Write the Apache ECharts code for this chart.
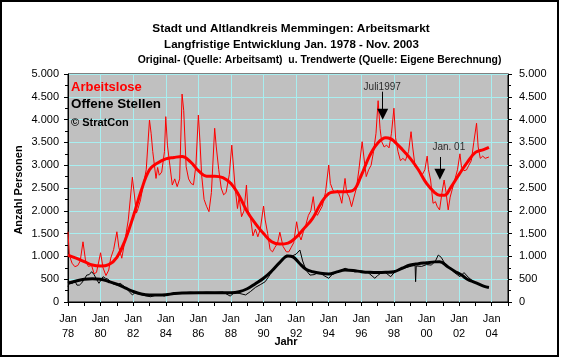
<!DOCTYPE html>
<html><head><meta charset="utf-8">
<script src="https://cdn.jsdelivr.net/npm/echarts@6/dist/echarts.min.js"></script>
<style>html,body{margin:0;padding:0;background:#fff}#c{width:561px;height:358px}</style>
</head><body><div id="c"></div>
<script>
const titleLines = [
  'Stadt und Altlandkreis Memmingen: Arbeitsmarkt',
  'Langfristige Entwicklung Jan. 1978 - Nov. 2003',
  'Original- (Quelle: Arbeitsamt)  u. Trendwerte (Quelle: Eigene Berechnung)'
];
const legendNames = ['Arbeitslose', 'Offene Stellen'];
const copyright = '\u00A9 StratCon';
const yAxisName = 'Anzahl Personen';
const xAxisName = 'Jahr';

// [decimal year, persons]
const arbeitsloseRaw = [
  [1978.00,1540],[1978.08,1030],[1978.25,850],[1978.42,775],[1978.60,800],[1978.75,900],[1978.92,1320],
  [1979.08,900],[1979.25,780],[1979.45,800],[1979.60,620],[1979.75,650],[1980.00,1080],[1980.15,750],
  [1980.33,580],[1980.50,700],[1980.62,960],[1980.80,1150],[1981.00,1540],[1981.12,1200],[1981.30,960],
  [1981.42,1000],[1981.50,1360],[1981.70,1800],[1981.95,2735],[1982.05,2700],[1982.20,1950],[1982.30,2050],
  [1982.45,2240],[1982.60,2530],[1982.80,2900],[1983.00,3990],[1983.10,3700],[1983.20,3300],[1983.40,2710],
  [1983.50,2950],[1983.60,2780],[1983.75,2850],[1983.92,3300],[1984.00,4065],[1984.10,3440],[1984.25,3000],
  [1984.40,2565],[1984.55,2700],[1984.70,2530],[1984.85,2700],[1985.00,4560],[1985.10,4200],[1985.25,2965],
  [1985.40,2700],[1985.55,2600],[1985.70,2570],[1985.85,3000],[1986.00,4100],[1986.10,3500],[1986.20,2785],
  [1986.35,2250],[1986.50,2100],[1986.65,1980],[1986.80,2400],[1987.00,3810],[1987.10,3400],[1987.25,2900],
  [1987.40,2500],[1987.55,2350],[1987.70,2400],[1987.90,2800],[1988.05,3440],[1988.15,3400],[1988.25,2530],
  [1988.40,2050],[1988.50,2300],[1988.65,1870],[1988.80,2000],[1988.95,2565],[1989.05,2000],[1989.20,1850],
  [1989.35,1450],[1989.50,1600],[1989.65,1430],[1989.80,1600],[1990.00,2105],[1990.10,1800],[1990.25,1505],
  [1990.40,1150],[1990.55,1100],[1990.70,1200],[1990.85,1280],[1991.00,1530],[1991.10,1530],[1991.20,1215],
  [1991.40,1100],[1991.55,1100],[1991.70,1200],[1991.85,1300],[1992.03,1760],[1992.15,1500],[1992.30,1360],
  [1992.45,1550],[1992.60,1700],[1992.75,1900],[1992.90,2000],[1993.05,2310],[1993.15,2000],[1993.30,1900],
  [1993.45,2000],[1993.60,2100],[1993.80,2400],[1994.00,3005],[1994.10,2600],[1994.25,2455],[1994.40,2400],
  [1994.55,2450],[1994.70,2300],[1994.80,2165],[1995.00,2710],[1995.10,2400],[1995.25,2300],[1995.40,2090],
  [1995.55,2300],[1995.70,2500],[1995.85,2900],[1996.05,3515],[1996.15,3200],[1996.30,2750],[1996.45,2900],
  [1996.60,3000],[1996.75,3300],[1996.90,3700],[1997.03,4415],[1997.15,3800],[1997.25,3515],[1997.40,3400],
  [1997.55,3440],[1997.70,3380],[1997.85,3700],[1998.00,4250],[1998.10,3600],[1998.25,3300],[1998.40,3100],
  [1998.55,3150],[1998.70,3100],[1998.90,3300],[1999.05,3735],[1999.15,3400],[1999.30,2965],[1999.45,2950],
  [1999.60,2850],[1999.75,2800],[1999.90,2900],[2000.04,3200],[2000.12,2900],[2000.25,2675],[2000.40,2165],
  [2000.55,2200],[2000.65,2100],[2000.80,2020],[2000.95,2400],[2001.08,2675],[2001.20,2400],[2001.33,2020],
  [2001.45,2300],[2001.60,2500],[2001.75,2700],[2001.90,2900],[2002.05,3250],[2002.15,2950],[2002.30,2880],
  [2002.45,2895],[2002.60,3000],[2002.75,3100],[2002.90,3500],[2003.07,3920],[2003.17,3400],[2003.30,3150],
  [2003.45,3200],[2003.60,3150],[2003.83,3180]
];
const arbeitsloseTrend = [
  [1978.0,1030],[1978.5,960],[1979.0,885],[1979.5,810],[1980.0,790],[1980.5,820],[1981.0,980],[1981.5,1350],
  [1982.0,1870],[1982.5,2450],[1983.0,2900],[1983.5,3050],[1984.0,3140],[1984.5,3170],[1985.0,3190],
  [1985.5,3080],[1986.0,2880],[1986.5,2760],[1987.0,2760],[1987.5,2730],[1988.0,2600],[1988.5,2330],
  [1989.0,1980],[1989.5,1720],[1990.0,1500],[1990.5,1320],[1991.0,1270],[1991.5,1290],[1992.0,1420],
  [1992.5,1620],[1993.0,1830],[1993.5,2150],[1994.0,2380],[1994.5,2420],[1995.0,2420],[1995.5,2450],
  [1996.0,2780],[1996.5,3200],[1997.0,3480],[1997.5,3600],[1997.8,3580],[1998.0,3530],[1998.5,3350],
  [1999.0,3150],[1999.5,2900],[2000.0,2600],[2000.5,2400],[2000.8,2340],[2001.1,2340],[2001.5,2520],
  [2002.0,2800],[2002.5,3060],[2003.0,3280],[2003.5,3340],[2003.83,3390]
];
const offeneRaw = [
  [1978.00,335],[1978.10,450],[1978.25,400],[1978.40,480],[1978.55,370],[1978.70,370],[1978.85,420],
  [1979.00,500],[1979.15,590],[1979.30,600],[1979.45,665],[1979.60,600],[1979.75,500],[1979.90,410],
  [1980.00,445],[1980.15,555],[1980.30,520],[1980.45,500],[1980.60,450],[1980.75,400],[1981.00,370],
  [1981.20,410],[1981.35,370],[1981.50,330],[1981.70,250],[1981.95,155],[1982.10,200],[1982.30,180],
  [1982.60,150],[1982.85,130],[1983.07,115],[1983.40,150],[1983.70,160],[1983.90,130],[1984.20,170],
  [1984.60,190],[1985.00,200],[1985.50,215],[1986.00,200],[1986.50,215],[1987.00,210],[1987.50,220],
  [1987.95,130],[1988.20,200],[1988.50,190],[1988.90,155],[1989.20,230],[1989.50,320],[1989.80,380],
  [1990.10,445],[1990.40,600],[1990.70,740],[1991.00,880],[1991.40,1030],[1991.70,1000],[1992.00,1050],
  [1992.23,1140],[1992.40,900],[1992.60,700],[1992.85,590],[1993.10,600],[1993.40,650],[1993.70,580],
  [1994.00,520],[1994.20,600],[1994.60,660],[1995.00,740],[1995.30,700],[1995.60,660],[1996.00,680],
  [1996.40,650],[1996.83,520],[1997.00,580],[1997.30,660],[1997.50,640],[1997.80,555],[1998.00,640],
  [1998.30,720],[1998.70,750],[1999.10,790],[1999.30,800],[1999.33,445],[1999.37,790],[1999.70,780],
  [2000.00,820],[2000.30,810],[2000.55,900],[2000.72,1030],[2000.90,980],[2001.20,800],[2001.50,720],
  [2001.70,650],[2002.05,555],[2002.30,645],[2002.60,530],[2002.95,430],[2003.30,370],[2003.60,330],
  [2003.83,320]
];
const offeneTrend = [
  [1978.0,410],[1978.5,460],[1979.0,500],[1979.5,510],[1980.0,500],[1980.5,450],[1981.0,390],[1981.5,310],
  [1982.0,230],[1982.5,175],[1983.0,155],[1983.5,155],[1984.0,160],[1984.5,185],[1985.0,200],[1986.0,205],
  [1987.0,205],[1988.0,205],[1988.5,225],[1989.0,290],[1989.5,400],[1990.0,520],[1990.5,680],[1991.0,870],
  [1991.5,1010],[1991.8,990],[1992.2,850],[1992.6,720],[1993.0,665],[1993.5,630],[1994.0,615],[1994.5,660],
  [1995.0,700],[1995.5,690],[1996.0,665],[1996.5,650],[1997.0,645],[1997.5,650],[1998.0,665],[1998.5,740],
  [1999.0,810],[1999.5,840],[2000.0,860],[2000.5,880],[2000.8,885],[2001.3,775],[2001.7,680],[2002.15,590],
  [2002.5,500],[2003.0,425],[2003.5,350],[2003.83,320]
];
// annotations: text, x (year), text value, arrow start value, arrow head value
const annotText = ['Juli1997', 'Jan. 01'];
const annotX = [1997.31, 2000.82];
const annotTextX = [1997.28, 2001.37];
const annotTextY = [4720, 3384];
const annotFrom = [4612, 3180];
const annotTo = [4116, 2800];

const FONT = '"Liberation Sans", Arial, sans-serif';
const chart = echarts.init(document.getElementById('c'), null, {renderer: 'canvas'});

function fmtNum(v) {
  if (v >= 1000) return Math.floor(v / 1000) + '.' + String(v % 1000).padStart(3, '0');
  return String(v);
}
const yAxisCommon = {
  type: 'value', min: 0, max: 5000, interval: 500,
  axisLine: {show: true, lineStyle: {color: '#000', width: 1}},
  axisTick: {show: true, length: 4, lineStyle: {color: '#000'}},
  minorTick: {show: true, splitNumber: 2, length: 3, lineStyle: {color: '#000'}},
  axisLabel: {color: '#000', fontSize: 11, fontFamily: FONT, formatter: fmtNum, margin: 9}
};

const markLines = annotX.map((x, i) => [
  {coord: [x, annotFrom[i]]}, {coord: [x, annotTo[i]]}
]);

chart.setOption({
  animation: false,
  backgroundColor: '#fff',
  grid: {left: 68, top: 74, width: 440, height: 228, show: true,
         backgroundColor: '#c0c0c0', borderColor: '#000', borderWidth: 1},
  xAxis: {
    type: 'value', min: 1978, max: 2005, interval: 2,
    axisLine: {show: true, onZero: false, lineStyle: {color: '#000'}},
    axisTick: {show: true, length: 4, lineStyle: {color: '#000'}},
    minorTick: {show: true, splitNumber: 2, length: 4, lineStyle: {color: '#000'}},
    splitLine: {show: true, lineStyle: {color: '#a8eef0', width: 1}},
    axisLabel: {
      color: '#000', fontSize: 11, fontFamily: FONT, lineHeight: 15, margin: 9,
      formatter: v => (v % 2 === 0 && v <= 2004) ? 'Jan\n' + String(v).slice(2) : ''
    }
  },
  yAxis: [
    Object.assign({}, yAxisCommon, {position: 'left',
      splitLine: {show: true, lineStyle: {color: '#a8eef0', width: 1}}}),
    Object.assign({}, yAxisCommon, {position: 'right', splitLine: {show: false},
      axisLabel: Object.assign({}, yAxisCommon.axisLabel, {margin: 11})})
  ],
  series: [
    {name: legendNames[0] + ' raw', type: 'line', data: arbeitsloseRaw, showSymbol: false,
     lineStyle: {color: '#ff0000', width: 1}, itemStyle: {color: '#ff0000'}, z: 2},
    {name: legendNames[0], type: 'line', data: arbeitsloseTrend, showSymbol: false, smooth: 0.4,
     lineStyle: {color: '#ff0000', width: 3}, itemStyle: {color: '#ff0000'}, z: 3},
    {name: legendNames[1] + ' raw', type: 'line', data: offeneRaw, showSymbol: false,
     lineStyle: {color: '#000', width: 1}, itemStyle: {color: '#000'}, z: 4},
    {name: legendNames[1], type: 'line', data: offeneTrend, showSymbol: false, smooth: 0.4,
     lineStyle: {color: '#000', width: 3}, itemStyle: {color: '#000'}, z: 5,
     markLine: {silent: true, symbol: ['none', 'triangle'], symbolSize: 11, animation: false,
       lineStyle: {color: '#000', width: 1, type: 'solid'}, itemStyle: {color: '#000'},
       label: {show: false}, data: markLines}},
    {name: 'annot', type: 'scatter', symbolSize: 0, z: 6,
     data: annotText.map((t, i) => [annotTextX[i], annotTextY[i], t]),
     label: {show: true, position: 'inside', color: '#000', fontSize: 10, fontFamily: FONT,
       formatter: p => p.value[2]}}
  ],
  graphic: [
    {type: 'rect', shape: {x: 1, y: 1, width: 557, height: 355}, style: {fill: 'none', stroke: '#000', lineWidth: 2}, silent: true},
    {type: 'text', x: 291, y: 29, style: {text: titleLines[0], font: 'bold 11.8px ' + FONT, fill: '#000', textAlign: 'center', textVerticalAlign: 'middle'}},
    {type: 'text', x: 291.5, y: 44.5, style: {text: titleLines[1], font: 'bold 11.5px ' + FONT, fill: '#000', textAlign: 'center', textVerticalAlign: 'middle'}},
    {type: 'text', x: 319.5, y: 60, style: {text: titleLines[2], font: 'bold 10.4px ' + FONT, fill: '#000', textAlign: 'center', textVerticalAlign: 'middle'}},
    {type: 'text', x: 71, y: 87, z: 10, style: {text: legendNames[0], font: 'bold 13px ' + FONT, fill: '#ff0000', textVerticalAlign: 'middle'}},
    {type: 'text', x: 71, y: 104.5, z: 10, style: {text: legendNames[1], font: 'bold 13.4px ' + FONT, fill: '#000', textVerticalAlign: 'middle'}},
    {type: 'text', x: 71, y: 123, z: 10, style: {text: copyright, font: 'bold 11px ' + FONT, fill: '#000', textVerticalAlign: 'middle'}},
    {type: 'text', x: 19, y: 190, rotation: Math.PI / 2, style: {text: yAxisName, font: 'bold 11px ' + FONT, fill: '#000', textAlign: 'center', textVerticalAlign: 'middle'}},
    {type: 'text', x: 286, y: 342, style: {text: xAxisName, font: 'bold 11px ' + FONT, fill: '#000', textAlign: 'center', textVerticalAlign: 'middle'}}
  ]
});
</script>
</body></html>
